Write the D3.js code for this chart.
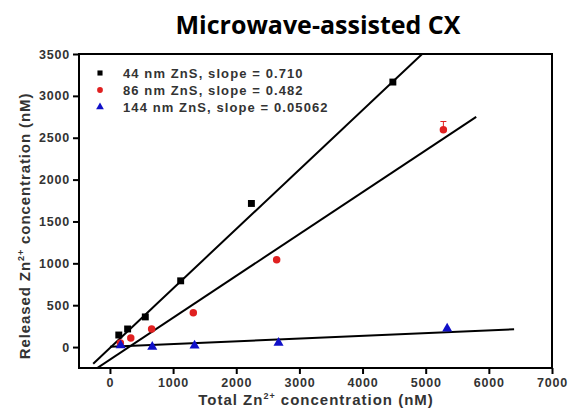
<!DOCTYPE html>
<html>
<head>
<meta charset="utf-8">
<script src="https://cdn.jsdelivr.net/npm/d3@7"></script>
<style>
  body { margin: 0; background: #fff; }
  text { font-family: Arial, "Liberation Sans", sans-serif; }
</style>
</head>
<body>
<div class="container"></div>
<script>
const width = 573;
const height = 419;
const margin = { top: 54, right: 21, bottom: 51, left: 79 };

// data
const seriesNames = ["44 nm ZnS, slope = 0.710", "86 nm ZnS, slope = 0.482", "144 nm ZnS, slope = 0.05062"];
const seriesColors = ["#000000", "#e02020", "#1010c8"];
const seriesSymbols = [d3.symbolSquare, d3.symbolCircle, d3.symbolTriangle];

const blackX = [140, 280, 560, 1120, 2240, 4480];
const blackY = [144, 216, 360, 791, 1715, 3165];
const redX = [165, 330, 660, 1320, 2640, 5280];
const redY = [48, 108, 216, 411, 1043, 2594];
const redErr = [0, 0, 0, 0, 0, 100];
const blueX = [170, 670, 1340, 2670, 5340];
const blueY = [22, 2, 18, 50, 222];

// fitted lines: slope, intercept, x start, x end
const fitSlope = [0.71, 0.5, 0.0325];
const fitIntercept = [-10, -150, 4];
const fitStart = [-265, -220, 0];
const fitEnd = [5200, 5800, 6400];

const xTicks = [0, 1000, 2000, 3000, 4000, 5000, 6000, 7000];
const yTicks = [0, 500, 1000, 1500, 2000, 2500, 3000, 3500];

const xScale = d3.scaleLinear()
    .domain([-490, 7000])
    .range([margin.left, width - margin.right]);

const yScale = d3.scaleLinear()
    .domain([-250, 3500])
    .range([height - margin.bottom, margin.top]);

const svg = d3.select(".container")
    .append("svg")
    .attr("width", width)
    .attr("height", height);

svg.append("text")
    .attr("x", 318)
    .attr("y", 34)
    .attr("text-anchor", "middle")
    .style("font-family", "'Open Sans', sans-serif")
    .style("font-weight", "bold")
    .style("font-size", "25px")
    .text("Microwave-assisted CX");

svg.append("clipPath")
    .attr("id", "plot-clip")
    .append("rect")
    .attr("x", margin.left)
    .attr("y", margin.top)
    .attr("width", width - margin.left - margin.right)
    .attr("height", height - margin.top - margin.bottom);

// fit lines
const fits = svg.append("g").attr("clip-path", "url(#plot-clip)");
fitSlope.forEach((s, i) => {
    const pts = [fitStart[i], fitEnd[i]].map(x => [x, s * x + fitIntercept[i]]);
    fits.append("path")
        .attr("d", d3.line().x(d => xScale(d[0])).y(d => yScale(d[1]))(pts))
        .attr("stroke", "#000")
        .attr("stroke-width", 2)
        .attr("fill", "none");
});

// error bars
const errs = svg.append("g");
redX.forEach((x, i) => {
    if (!redErr[i]) return;
    const cx = xScale(x);
    errs.append("line")
        .attr("x1", cx).attr("x2", cx)
        .attr("y1", yScale(redY[i])).attr("y2", yScale(redY[i] + redErr[i]))
        .attr("stroke", seriesColors[1]).attr("stroke-width", 1);
    errs.append("line")
        .attr("x1", cx - 3).attr("x2", cx + 3)
        .attr("y1", yScale(redY[i] + redErr[i])).attr("y2", yScale(redY[i] + redErr[i]))
        .attr("stroke", seriesColors[1]).attr("stroke-width", 1);
});

// points
const allSeries = [
    d3.zip(blackX, blackY),
    d3.zip(redX, redY),
    d3.zip(blueX, blueY)
];
const symSizes = [48, 44, 44];
allSeries.forEach((pts, i) => {
    svg.append("g")
        .selectAll("path")
        .data(pts)
        .join("path")
        .attr("transform", d => `translate(${xScale(d[0])},${yScale(d[1])})`)
        .attr("d", d3.symbol(seriesSymbols[i], symSizes[i]))
        .attr("fill", seriesColors[i]);
});

// axes
const xAxis = svg.append("g")
    .attr("transform", `translate(0,${height - margin.bottom})`)
    .call(d3.axisBottom(xScale).tickValues(xTicks).tickFormat(d3.format("d"))
        .tickSize(6).tickSizeOuter(0).tickPadding(4));

const yAxis = svg.append("g")
    .attr("transform", `translate(${margin.left},0)`)
    .call(d3.axisLeft(yScale).tickValues(yTicks).tickFormat(d3.format("d"))
        .tickSize(6).tickSizeOuter(0).tickPadding(3));

[xAxis, yAxis].forEach(g => {
    g.select(".domain").remove();
    g.selectAll(".tick line").attr("stroke", "#000").attr("stroke-width", 2);
    g.selectAll(".tick text")
        .attr("fill", "#333")
        .style("font-size", "12.5px")
        .style("font-weight", "bold")
        .style("letter-spacing", "0.8px");
});

// frame
svg.append("rect")
    .attr("x", margin.left)
    .attr("y", margin.top)
    .attr("width", width - margin.left - margin.right)
    .attr("height", height - margin.top - margin.bottom)
    .attr("fill", "none")
    .attr("stroke", "#000")
    .attr("stroke-width", 2);

// axis titles
const xTitle = svg.append("text")
    .attr("x", 316)
    .attr("y", 405)
    .attr("text-anchor", "middle")
    .attr("fill", "#333")
    .style("font-size", "15px")
    .style("font-weight", "bold")
    .style("letter-spacing", "1px");
xTitle.append("tspan").text("Total Zn");
xTitle.append("tspan").attr("dy", -6).style("font-size", "9px").text("2+");
xTitle.append("tspan").attr("dy", 6).text(" concentration (nM)");

const yTitle = svg.append("text")
    .attr("transform", "translate(30,226) rotate(-90)")
    .attr("text-anchor", "middle")
    .attr("fill", "#333")
    .style("font-size", "15px")
    .style("font-weight", "bold")
    .style("letter-spacing", "0.9px");
yTitle.append("tspan").text("Released Zn");
yTitle.append("tspan").attr("dy", -6).style("font-size", "9px").text("2+");
yTitle.append("tspan").attr("dy", 6).text(" concentration (nM)");

// legend
const legend = svg.append("g");
seriesNames.forEach((name, i) => {
    const ly = 73 + i * 17;
    legend.append("path")
        .attr("transform", `translate(100,${ly})`)
        .attr("d", d3.symbol(seriesSymbols[i], 26))
        .attr("fill", seriesColors[i]);
    legend.append("text")
        .attr("x", 123)
        .attr("y", ly + 4.5)
        .attr("fill", "#333")
        .style("font-size", "13px")
        .style("font-weight", "bold")
        .style("letter-spacing", "1.1px")
        .text(name);
});
</script>
</body>
</html>
